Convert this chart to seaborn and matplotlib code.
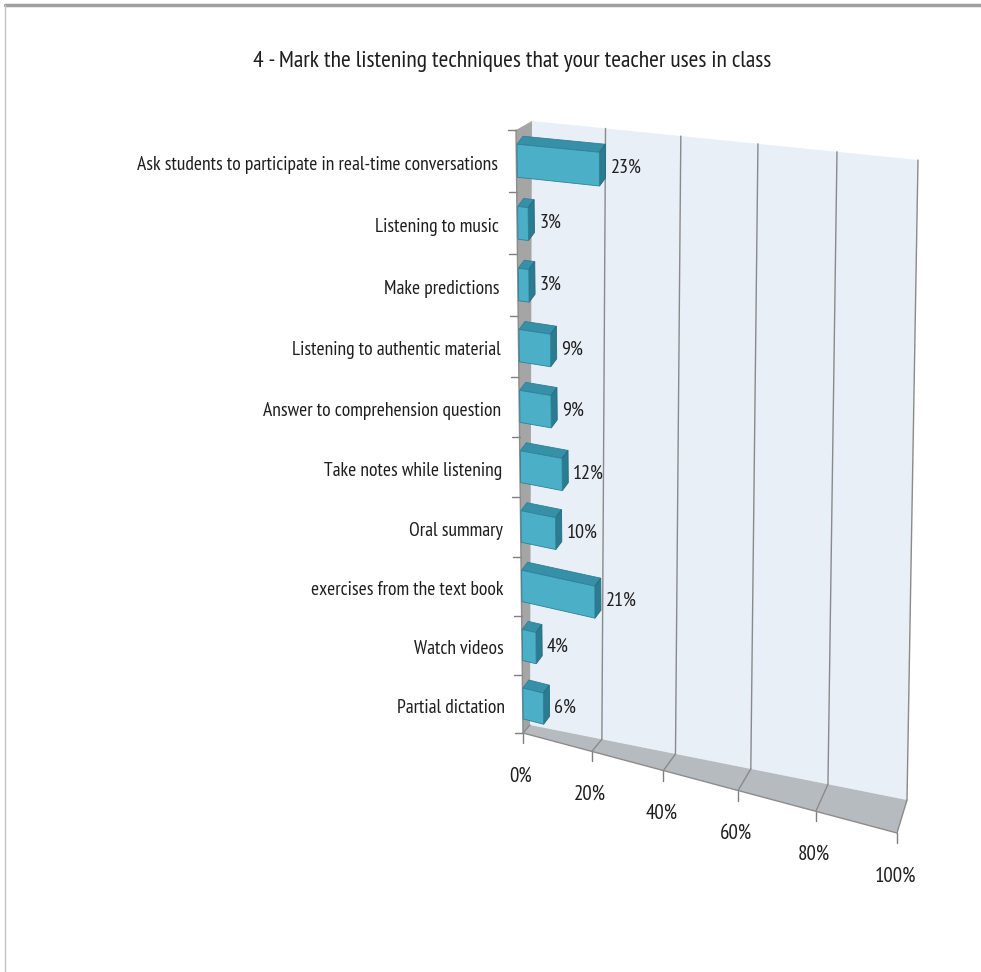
"""Listening techniques chart, 3D-looking horizontal bars (Excel style)."""

import matplotlib
matplotlib.use("Agg")
import matplotlib.pyplot as plt
import matplotlib.transforms as mtransforms
from matplotlib.lines import Line2D
from matplotlib.patches import Polygon
import numpy as np
import pandas as pd
import seaborn as sns

TITLE = "4 - Mark the listening techniques that your teacher uses in class"
techniques = [
    "Ask students to participate in real-time conversations",
    "Listening to music",
    "Make predictions",
    "Listening to authentic material",
    "Answer to comprehension question",
    "Take notes while listening",
    "Oral summary",
    "exercises from the text book",
    "Watch videos",
    "Partial dictation",
]
shares = [23, 3, 3, 9, 9, 12, 10, 21, 4, 6]
x_ticks = [0, 20, 40, 60, 80, 100]

W, H = 981, 972

# corners of the 3D box in image pixels (y down): BL, BR, TR, TL
FRONT = [(523, 733), (897, 833), (905, 166), (516, 130)]
BACK = [(530, 725), (907, 800), (918, 160), (532, 121)]
T0 = 0.05                     # depth of the bar front faces
DEPTH = np.array([6.0, 8.0])  # bar depth, display pixels (right, up)

FONT = ['PT Sans Narrow', 'Roboto Condensed', 'DejaVu Sans']
INK = "#1e1e1e"


class Persp(mtransforms.Transform):
    """Projective map from the axes unit square to display pixels."""
    input_dims = output_dims = 2
    has_inverse = True

    def __init__(self, M):
        super().__init__()
        self.M = M

    def transform_non_affine(self, values):
        xy = np.asarray(values, float).reshape(-1, 2)
        p = np.column_stack([xy, np.ones(len(xy))]) @ self.M.T
        return p[:, :2] / p[:, 2:3]

    def inverted(self):
        return Persp(np.linalg.inv(self.M))


def homography(dst):
    src = [(0, 0), (1, 0), (1, 1), (0, 1)]
    A, b = [], []
    for (x, y), (X, Y) in zip(src, dst):
        A.append([x, y, 1, 0, 0, 0, -X * x, -X * y])
        A.append([0, 0, 0, x, y, 1, -Y * x, -Y * y])
        b += [X, Y]
    return np.append(np.linalg.solve(A, b), 1).reshape(3, 3)


def plane(t):
    pts = [((1 - t) * fx + t * bx, H - ((1 - t) * fy + t * by))
           for (fx, fy), (bx, by) in zip(FRONT, BACK)]
    return Persp(homography(pts))


sns.set_style("white")
plt.rcParams['font.family'] = FONT

df = pd.DataFrame({"technique": techniques, "share": shares})

fig = plt.figure(figsize=(W / 100, H / 100), dpi=100)
ax = fig.add_axes([0, 0, 1, 1])
sns.barplot(data=df, x="share", y="technique", orient="h", width=0.53,
            color="#4bacc6", ax=ax)
ax.set_xlim(0, 100)
ax.set_ylim(len(techniques) - 0.5, -0.5)
ax.axis("off")

to_unit = ax.transScale + ax.transLimits
front_tr = to_unit + plane(0)
bar_tr = to_unit + plane(T0)
back_tr = to_unit + plane(1)
pix = mtransforms.IdentityTransform()
y_lo, y_hi = len(techniques) - 0.5, -0.5


def proj(x, y, t):
    return plane(t).transform(to_unit.transform([(x, y)]))[0]


# walls and floor
ax.add_patch(Polygon([(0, 0), (1, 0), (1, 1), (0, 1)], transform=plane(1),
                     facecolor="#e8eff7", edgecolor="none", zorder=0))
ax.add_patch(Polygon([proj(0, y_lo, 0), proj(100, y_lo, 0),
                      proj(100, y_lo, 1), proj(0, y_lo, 1)], transform=pix,
                     facecolor="#b6bbc0", edgecolor="none", zorder=0.5))
ax.add_patch(Polygon([proj(0, y_lo, 0), proj(0, y_hi, 0),
                      proj(0, y_hi, 1), proj(0, y_lo, 1)], transform=pix,
                     facecolor="#a5a5a5", edgecolor="none", zorder=0.5))

# gridlines on wall and floor, ticks under the front edge
for tick in x_ticks:
    if tick > 0:
        ax.plot([tick, tick], [y_lo, y_hi], transform=back_tr,
                color="#8a8a8a", lw=1, zorder=1)
    b, f = proj(tick, y_lo, 1), proj(tick, y_lo, 0)
    ax.add_line(Line2D([b[0], f[0]], [b[1], f[1]], transform=pix,
                       color="#8a8a8a", lw=1, zorder=1))
    ax.add_line(Line2D([f[0], f[0]], [f[1], f[1] - 10], transform=pix,
                       color="#7f7f7f", lw=1, zorder=1))
    ax.annotate(f"{tick}%", xy=(tick, y_lo), xycoords=front_tr,
                xytext=(-2, -43), textcoords="offset pixels",
                ha="center", va="center", fontsize=15, color=INK)

for edge in np.arange(len(techniques) + 1) - 0.5:
    p = proj(0, edge, 0)
    ax.add_line(Line2D([p[0] - 8, p[0]], [p[1], p[1]], transform=pix,
                       color="#7f7f7f", lw=1, zorder=1))

# axis lines along the front edges
ax.plot([0, 0], [y_lo, y_hi], transform=front_tr, color="#8c8c8c",
        lw=1, zorder=1)
ax.plot([0, 100], [y_lo, y_lo], transform=front_tr, color="#8c8c8c",
        lw=1, zorder=1)

# bars: seaborn front faces plus top and side faces
for bar, share, name in zip(ax.containers[0], shares, techniques):
    x0, y0 = bar.get_x(), bar.get_y()
    w, h = bar.get_width(), bar.get_height()
    bar.set_transform(bar_tr)
    bar.set(facecolor="#4bafc8", edgecolor="#2f8196", linewidth=0.6,
            zorder=3)
    tl, tr = proj(x0, y0, T0), proj(x0 + w, y0, T0)
    br = proj(x0 + w, y0 + h, T0)
    top = [tl, tr, tr + DEPTH, tl + DEPTH]
    side = [tr, br, br + DEPTH, tr + DEPTH]
    ax.add_patch(Polygon(top, transform=pix, facecolor="#3690a7",
                         edgecolor="#2f8196", lw=0.6, zorder=2))
    ax.add_patch(Polygon(side, transform=pix, facecolor="#2b7c91",
                         edgecolor="#236b7e", lw=0.6, zorder=2))
    yc = y0 + h / 2
    ax.annotate(f"{share}%", xy=(x0 + w, yc), xycoords=bar_tr,
                xytext=(11, 1), textcoords="offset pixels",
                ha="left", va="center", fontsize=14.5, color=INK,
                zorder=4)
    ax.annotate(name, xy=(0, yc), xycoords=front_tr,
                xytext=(-18, -4), textcoords="offset pixels",
                ha="right", va="center", fontsize=14, color=INK)

fig.text(512 / W, 1 - 62 / H, TITLE, ha="center", va="center",
         fontsize=17, color=INK)

# outer frame
fig.add_artist(Line2D([5 / W, 1], [1 - 5 / H, 1 - 5 / H],
                      color="#a0a0a0", lw=2.5))
fig.add_artist(Line2D([5 / W, 5 / W], [0, 1 - 5 / H],
                      color="#c4c4c4", lw=1))

fig.savefig("out.png", dpi=100)
